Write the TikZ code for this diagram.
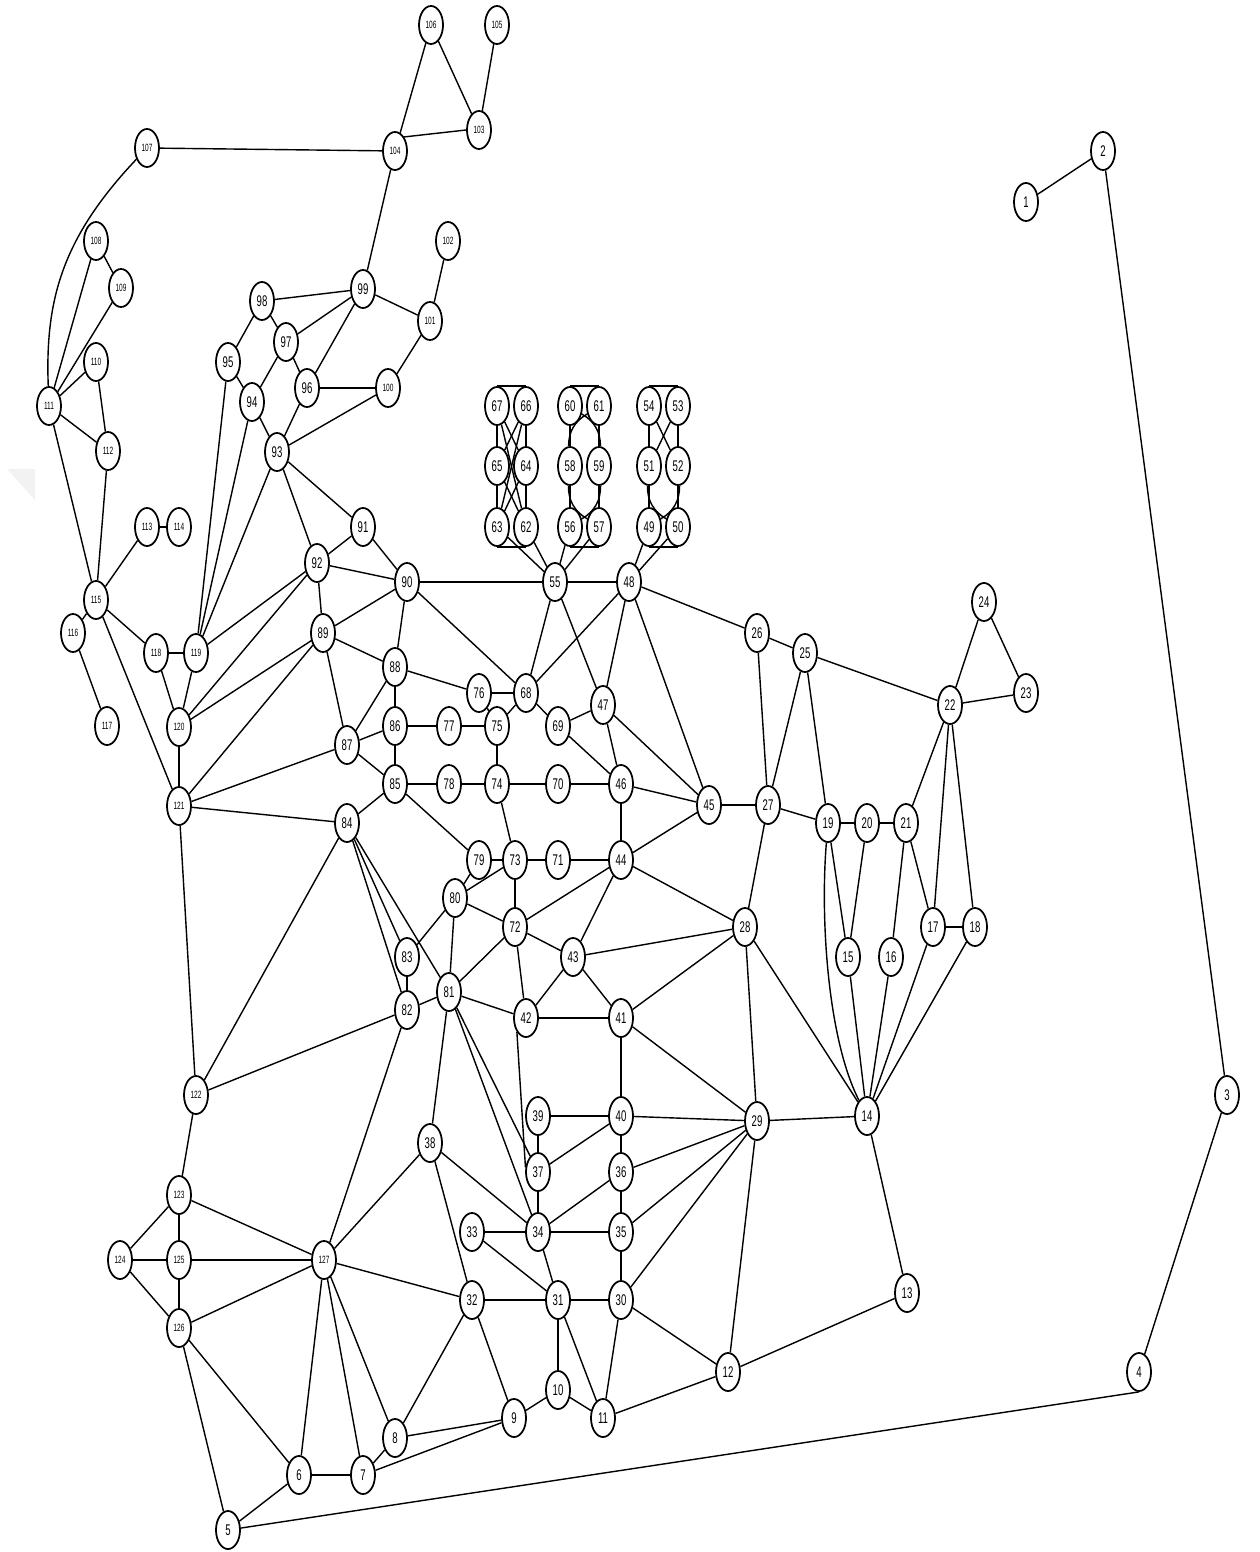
\documentclass[tikz,border=0pt]{standalone}
\usepackage{fontspec}
\setmainfont{Liberation Sans}
\newfontfamily\lblfont[FakeStretch=0.62]{Liberation Sans}
\usetikzlibrary{shapes.geometric, backgrounds}

\begin{document}
\begin{tikzpicture}[x=0.01cm, y=-0.01cm, line width=0.4pt,
      vtx/.style={draw, ellipse, fill=white, line width=0.5pt,
                  minimum width=0.24cm, minimum height=0.38cm, inner sep=0pt,
                  font=\lblfont\fontsize{4.4}{4.4}\selectfont},
      vtxs/.style={vtx, font=\lblfont\fontsize{3}{3}\selectfont}]

    \useasboundingbox (0,0) rectangle (1259,1552);
    % faint shadow at the left margin
    \fill[gray!10] (7,469) -- (35,469) -- (35,500) -- cycle;

    % --- far right: 1..4 ---
    \node[vtx] (n1) at (1026,202) {1};
    \node[vtx] (n2) at (1103,151) {2};
    \node[vtx] (n3) at (1227,1095) {3};
    \node[vtx] (n4) at (1139,1372) {4};

    % --- bottom row: 5..13 ---
    \node[vtx] (n5)  at (228,1530) {5};
    \node[vtx] (n6)  at (299,1475) {6};
    \node[vtx] (n7)  at (363,1475) {7};
    \node[vtx] (n8)  at (395,1438) {8};
    \node[vtx] (n9)  at (514,1418) {9};
    \node[vtx] (n10) at (558,1390) {10};
    \node[vtx] (n11) at (603,1418) {11};
    \node[vtx] (n12) at (728,1372) {12};
    \node[vtx] (n13) at (907,1293) {13};

    % --- right block: 14..29 ---
    \node[vtx] (n14) at (867,1116) {14};
    \node[vtx] (n15) at (848,957) {15};
    \node[vtx] (n16) at (891,957) {16};
    \node[vtx] (n17) at (933,927) {17};
    \node[vtx] (n18) at (975,927) {18};
    \node[vtx] (n19) at (828,823) {19};
    \node[vtx] (n20) at (867,823) {20};
    \node[vtx] (n21) at (906,823) {21};
    \node[vtx] (n22) at (950,705) {22};
    \node[vtx] (n23) at (1026,693) {23};
    \node[vtx] (n24) at (984,602) {24};
    \node[vtx] (n25) at (805,653) {25};
    \node[vtx] (n26) at (757,633) {26};
    \node[vtx] (n27) at (768,805) {27};
    \node[vtx] (n28) at (745,927) {28};
    \node[vtx] (n29) at (757,1121) {29};

    % --- centre grid: 30..48, 55 ---
    \node[vtx] (n30) at (621,1300) {30};
    \node[vtx] (n31) at (558,1300) {31};
    \node[vtx] (n32) at (472,1300) {32};
    \node[vtx] (n33) at (472,1232) {33};
    \node[vtx] (n34) at (538,1232) {34};
    \node[vtx] (n35) at (621,1232) {35};
    \node[vtx] (n36) at (621,1172) {36};
    \node[vtx] (n37) at (538,1172) {37};
    \node[vtx] (n38) at (430,1143) {38};
    \node[vtx] (n39) at (538,1116) {39};
    \node[vtx] (n40) at (621,1116) {40};
    \node[vtx] (n41) at (621,1018) {41};
    \node[vtx] (n42) at (526,1018) {42};
    \node[vtx] (n43) at (573,957) {43};
    \node[vtx] (n44) at (621,860) {44};
    \node[vtx] (n45) at (709,805) {45};
    \node[vtx] (n46) at (621,784) {46};
    \node[vtx] (n47) at (603,705) {47};
    \node[vtx] (n48) at (629,582) {48};
    \node[vtx] (n55) at (555,582) {55};

    % --- three stacks of six ---
    \node[vtx] (n49) at (649,527) {49};
    \node[vtx] (n50) at (678,527) {50};
    \node[vtx] (n51) at (649,466) {51};
    \node[vtx] (n52) at (678,466) {52};
    \node[vtx] (n53) at (678,406) {53};
    \node[vtx] (n54) at (649,406) {54};
    \node[vtx] (n56) at (570,527) {56};
    \node[vtx] (n57) at (599,527) {57};
    \node[vtx] (n58) at (570,466) {58};
    \node[vtx] (n59) at (599,466) {59};
    \node[vtx] (n60) at (570,406) {60};
    \node[vtx] (n61) at (599,406) {61};
    \node[vtx] (n62) at (526,527) {62};
    \node[vtx] (n63) at (497,527) {63};
    \node[vtx] (n64) at (526,466) {64};
    \node[vtx] (n65) at (497,466) {65};
    \node[vtx] (n66) at (526,406) {66};
    \node[vtx] (n67) at (497,406) {67};

    % --- 68..92 ---
    \node[vtx] (n68) at (526,693) {68};
    \node[vtx] (n69) at (558,726) {69};
    \node[vtx] (n70) at (558,784) {70};
    \node[vtx] (n71) at (558,860) {71};
    \node[vtx] (n72) at (515,927) {72};
    \node[vtx] (n73) at (515,860) {73};
    \node[vtx] (n74) at (497,784) {74};
    \node[vtx] (n75) at (497,726) {75};
    \node[vtx] (n76) at (479,693) {76};
    \node[vtx] (n77) at (449,726) {77};
    \node[vtx] (n78) at (449,784) {78};
    \node[vtx] (n79) at (479,860) {79};
    \node[vtx] (n80) at (455,898) {80};
    \node[vtx] (n81) at (449,992) {81};
    \node[vtx] (n82) at (407,1010) {82};
    \node[vtx] (n83) at (407,957) {83};
    \node[vtx] (n84) at (347,823) {84};
    \node[vtx] (n85) at (395,784) {85};
    \node[vtx] (n86) at (395,726) {86};
    \node[vtx] (n87) at (347,745) {87};
    \node[vtx] (n88) at (395,667) {88};
    \node[vtx] (n89) at (323,633) {89};
    \node[vtx] (n90) at (407,582) {90};
    \node[vtx] (n91) at (363,527) {91};
    \node[vtx] (n92) at (317,563) {92};

    % --- upper left: 93..99 ---
    \node[vtx] (n93) at (277,452) {93};
    \node[vtx] (n94) at (252,402) {94};
    \node[vtx] (n95) at (228,362) {95};
    \node[vtx] (n96) at (307,388) {96};
    \node[vtx] (n97) at (286,342) {97};
    \node[vtx] (n98) at (262,301) {98};
    \node[vtx] (n99) at (363,289) {99};

    % --- small labels: 100..127 ---
    \node[vtxs] (n100) at (388,388) {100};
    \node[vtxs] (n101) at (430,321) {101};
    \node[vtxs] (n102) at (448,241) {102};
    \node[vtxs] (n103) at (479,130) {103};
    \node[vtxs] (n104) at (395,151) {104};
    \node[vtxs] (n105) at (497,25) {105};
    \node[vtxs] (n106) at (431,25) {106};
    \node[vtxs] (n107) at (147,148) {107};
    \node[vtxs] (n108) at (96,241) {108};
    \node[vtxs] (n109) at (121,288) {109};
    \node[vtxs] (n110) at (96,362) {110};
    \node[vtxs] (n111) at (49,406) {111};
    \node[vtxs] (n112) at (108,451) {112};
    \node[vtxs] (n113) at (147,527) {113};
    \node[vtxs] (n114) at (179,527) {114};
    \node[vtxs] (n115) at (96,600) {115};
    \node[vtxs] (n116) at (73,633) {116};
    \node[vtxs] (n117) at (107,726) {117};
    \node[vtxs] (n118) at (156,653) {118};
    \node[vtxs] (n119) at (196,653) {119};
    \node[vtxs] (n120) at (179,727) {120};
    \node[vtxs] (n121) at (179,806) {121};
    \node[vtxs] (n122) at (196,1095) {122};
    \node[vtxs] (n123) at (179,1195) {123};
    \node[vtxs] (n124) at (120,1260) {124};
    \node[vtxs] (n125) at (179,1260) {125};
    \node[vtxs] (n126) at (179,1328) {126};
    \node[vtxs] (n127) at (324,1260) {127};

    % ======= EDGES (behind the nodes) =======
    \begin{scope}[on background layer]
    % outer ring
    \draw (n1) -- (n2);  \draw (n2) -- (n3);  \draw (n3) -- (n4);
    \draw (n5) -- (n4.south);
    % bottom
    \draw (n5) -- (n6);  \draw (n5) -- (n126);
    \draw (n6) -- (n7);  \draw (n6) -- (n126);  \draw (n6) -- (n127);
    \draw (n7) -- (n8);  \draw (n7) -- (n9);    \draw (n7) -- (n127);
    \draw (n8) -- (n9);  \draw (n8) -- (n32);   \draw (n8) -- (n127);
    \draw (n9) -- (n10); \draw (n9) -- (n32);
    \draw (n10) -- (n11); \draw (n10) -- (n31);
    \draw (n11) -- (n12); \draw (n11) -- (n30); \draw (n11) -- (n31);
    \draw (n12) -- (n13); \draw (n12) -- (n29); \draw (n12) -- (n30);
    \draw (n13) -- (n14);
    % right block
    \draw (n14) -- (n15); \draw (n14) -- (n16); \draw (n14) -- (n17);
    \draw (n14) -- (n18); \draw (n14) -- (n28); \draw (n14) -- (n29);
    \draw (n19) .. controls (820,920) and (828,1040) .. (n14);
    \draw (n15) -- (n19); \draw (n15) -- (n20);
    \draw (n16) -- (n21);
    \draw (n17) -- (n18); \draw (n17) -- (n21); \draw (n17) -- (n22);
    \draw (n18) -- (n22);
    \draw (n19) -- (n20); \draw (n19) -- (n25); \draw (n19) -- (n27);
    \draw (n20) -- (n21); \draw (n21) -- (n22);
    \draw (n22) -- (n23); \draw (n22) -- (n24); \draw (n22) -- (n25);
    \draw (n23) -- (n24);
    \draw (n25) -- (n26); \draw (n25) -- (n27);
    \draw (n26) -- (n27); \draw (n26) -- (n48);
    \draw (n27) -- (n28); \draw (n27) -- (n45);
    \draw (n28) -- (n29); \draw (n28) -- (n41); \draw (n28) -- (n43); \draw (n28) -- (n44);
    \draw (n29) -- (n30); \draw (n29) -- (n35); \draw (n29) -- (n36);
    \draw (n29) -- (n40); \draw (n29) -- (n41);
    % centre grid
    \draw (n30) -- (n31); \draw (n30) -- (n35);
    \draw (n31) -- (n32); \draw (n31) -- (n33); \draw (n31) -- (n34);
    \draw (n32) -- (n38); \draw (n32) -- (n127);
    \draw (n33) -- (n34);
    \draw (n34) -- (n35); \draw (n34) -- (n36); \draw (n34) -- (n37);
    \draw (n34) -- (n38); \draw (n34) -- (n81);
    \draw (n35) -- (n36); \draw (n36) -- (n40);
    \draw (n37) -- (n39); \draw (n37) -- (n40); \draw (n37) -- (n81);
    \draw (n42.south west) -- (n37.160);
    \draw (n38) -- (n81); \draw (n38) -- (n127);
    \draw (n39) -- (n40); \draw (n40) -- (n41);
    \draw (n41) -- (n42); \draw (n41) -- (n43);
    \draw (n42) -- (n43); \draw (n42) -- (n72); \draw (n42) -- (n81);
    \draw (n43) -- (n44); \draw (n43) -- (n72);
    \draw (n44) -- (n45); \draw (n44) -- (n46); \draw (n44) -- (n71); \draw (n44) -- (n72);
    \draw (n45) -- (n46); \draw (n45) -- (n47); \draw (n45) -- (n48);
    \draw (n46) -- (n47); \draw (n46) -- (n69); \draw (n46) -- (n70);
    \draw (n47) -- (n48); \draw (n47) -- (n55); \draw (n47) -- (n69);
    \draw (n48) -- (n49); \draw (n48) -- (n50); \draw (n48) -- (n55); \draw (n48) -- (n68);
    \draw (n55) -- (n56); \draw (n55) -- (n57); \draw (n55) -- (n62);
    \draw (n55) -- (n63); \draw (n55) -- (n68); \draw (n55) -- (n90);
    % stack 62..67
    \draw (n67.north) -- (n66.north); \draw (n63.south) -- (n62.south);
    \draw (n67) -- (n65); \draw (n65) -- (n63); \draw (n66) -- (n64); \draw (n64) -- (n62);
    \draw (n67) -- (n64); \draw (n66) -- (n65); \draw (n65) -- (n62); \draw (n64) -- (n63);
    \draw (n67) -- (n62); \draw (n66) -- (n63);
    % stack 56..61
    \draw (n60.north) -- (n61.north); \draw (n56.south) -- (n57.south);
    \draw (n60) -- (n58); \draw (n58) -- (n56); \draw (n61) -- (n59); \draw (n59) -- (n57);
    \draw (n60) to[bend left=30] (n59); \draw (n61) to[bend right=30] (n58);
    \draw (n58) to[bend right=30] (n57); \draw (n59) to[bend left=30] (n56);
    % stack 49..54
    \draw (n54.north) -- (n53.north); \draw (n49.south) -- (n50.south);
    \draw (n54) -- (n51); \draw (n51) -- (n49); \draw (n53) -- (n52); \draw (n52) -- (n50);
    \draw (n54) -- (n52); \draw (n53) -- (n51);
    \draw (n51) to[bend right=30] (n50); \draw (n52) to[bend left=30] (n49);
    % 68..92
    \draw (n68) -- (n69); \draw (n68) -- (n75); \draw (n68) -- (n76); \draw (n68) -- (n90);
    \draw (n70) -- (n74); \draw (n71) -- (n73);
    \draw (n72) -- (n73); \draw (n72) -- (n80); \draw (n72) -- (n81);
    \draw (n73) -- (n74); \draw (n73) -- (n79); \draw (n73) -- (n80);
    \draw (n74) -- (n75); \draw (n74) -- (n78);
    \draw (n75) -- (n76); \draw (n75) -- (n77);
    \draw (n76) -- (n88); \draw (n77) -- (n86); \draw (n78) -- (n85);
    \draw (n79) -- (n80); \draw (n79) -- (n85);
    \draw (n80) -- (n81); \draw (n80) -- (n83);
    \draw (n81) -- (n82); \draw (n81) -- (n84);
    \draw (n82) -- (n83); \draw (n82) -- (n84); \draw (n82) -- (n122); \draw (n82) -- (n127);
    \draw (n83) -- (n84);
    \draw (n84) -- (n85); \draw (n84) -- (n121); \draw (n84) -- (n122);
    \draw (n85) -- (n86); \draw (n85) -- (n87);
    \draw (n86) -- (n87); \draw (n86) -- (n88);
    \draw (n87) -- (n88); \draw (n87) -- (n89); \draw (n87) -- (n121);
    \draw (n88) -- (n89); \draw (n88) -- (n90);
    \draw (n89) -- (n90); \draw (n89) -- (n92); \draw (n89) -- (n120); \draw (n89) -- (n121);
    \draw (n90) -- (n91); \draw (n90) -- (n92);
    \draw (n91) -- (n92); \draw (n91) -- (n93);
    \draw (n92) -- (n93); \draw (n92) -- (n119); \draw (n92) -- (n120);
    % upper left
    \draw (n93) -- (n94); \draw (n93) -- (n96); \draw (n93) -- (n100); \draw (n93) -- (n119);
    \draw (n94) -- (n95); \draw (n94) -- (n97); \draw (n94) -- (n119);
    \draw (n95) -- (n98); \draw (n95) -- (n119);
    \draw (n96) -- (n97); \draw (n96) -- (n99); \draw (n96) -- (n100);
    \draw (n97) -- (n98); \draw (n97) -- (n99);
    \draw (n98) -- (n99);
    \draw (n99) -- (n101); \draw (n99) -- (n104);
    \draw (n100) -- (n101); \draw (n101) -- (n102);
    \draw (n104.north east) -- (n103.west); \draw (n103) -- (n105); \draw (n103) -- (n106);
    \draw (n104) -- (n106); \draw (n104) -- (n107);
    \draw (n111) .. controls (45,300) and (62,238) .. (n107);
    \draw (n108) -- (n109); \draw (n108) -- (n111); \draw (n109) -- (n111);
    \draw (n110) -- (n111); \draw (n110) -- (n112);
    \draw (n111) -- (n112); \draw (n111) -- (n115); \draw (n112) -- (n115);
    \draw (n113) -- (n114); \draw (n113) -- (n115);
    \draw (n115) -- (n116); \draw (n115) -- (n118); \draw (n115) -- (n121);
    \draw (n116) -- (n117);
    \draw (n118) -- (n119); \draw (n118) -- (n120);
    \draw (n119) -- (n120); \draw (n120) -- (n121);
    % lower left
    \draw (n121) -- (n122); \draw (n122) -- (n123);
    \draw (n123) -- (n124); \draw (n123) -- (n125); \draw (n123) -- (n127);
    \draw (n124) -- (n125); \draw (n124) -- (n126);
    \draw (n125) -- (n126); \draw (n125) -- (n127);
    \draw (n126) -- (n127);
    \end{scope}

\end{tikzpicture}
\end{document}
